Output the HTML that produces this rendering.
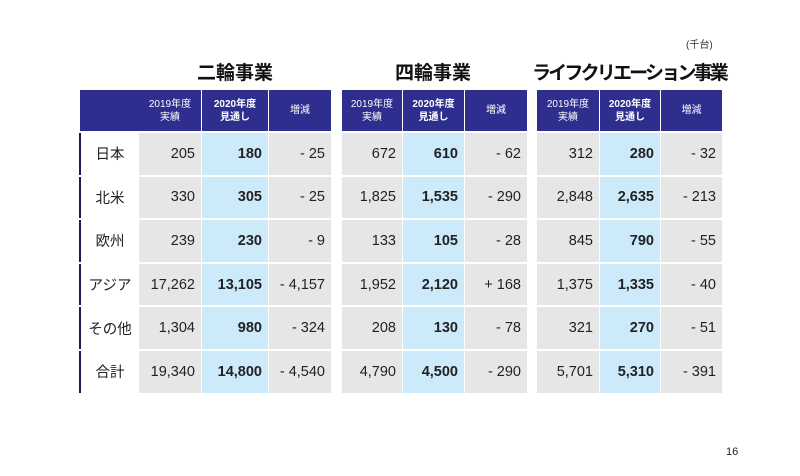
<!DOCTYPE html>
<html><head><meta charset="utf-8">
<style>
body{margin:0;width:800px;height:476px;background:#fff;position:relative;overflow:hidden;font-family:"Liberation Sans","Noto Sans CJK JP",sans-serif;}
.a{position:absolute;box-sizing:border-box;}
.h{background:#2e2e8f;color:#fff;font-size:10px;line-height:13px;text-align:center;display:flex;align-items:center;justify-content:center;}
.c{font-size:14.5px;color:#222;display:flex;align-items:center;justify-content:flex-end;padding-right:6px;}
.g{background:#e6e6e6}.b{background:#cdeafb;font-weight:bold}
.t{font-size:19px;font-weight:bold;color:#111;text-align:center;white-space:nowrap;}
.l{font-size:14.5px;color:#222;display:flex;align-items:center;justify-content:center;border-left:2px solid #1b1b55;}
</style></head><body>
<div class="a" style="left:686px;top:36px;font-size:10px;color:#333">(千台)</div>
<div class="a" style="left:726px;top:446px;font-size:11px;color:#222">16</div>
<script>
const regions=["日本","北米","欧州","アジア","その他","合計"];
const titles=["二輪事業","四輪事業","ライフクリエーション事業"];
const v2019=[["205","330","239","17,262","1,304","19,340"],["672","1,825","133","1,952","208","4,790"],["312","2,848","845","1,375","321","5,701"]];
const v2020=[["180","305","230","13,105","980","14,800"],["610","1,535","105","2,120","130","4,500"],["280","2,635","790","1,335","270","5,310"]];
const vdiff=[["- 25","- 25","- 9","- 4,157","- 324","- 4,540"],["- 62","- 290","- 28","+ 168","- 78","- 290"],["- 32","- 213","- 55","- 40","- 51","- 391"]];
const secs=[[139,201,202,268,269,331],[342,402,403,464,465,527],[537,599,600,660,661,722]];
function box(cls,x,y,w,h,html,name){const d=document.createElement('div');d.className='a '+cls;d.style.left=x+'px';d.style.top=y+'px';d.style.width=w+'px';d.style.height=h+'px';d.innerHTML=html;


document.body.appendChild(d);return d;}
const rowTop=133,rowH=43.6;
box('h',80,90,59,41,'','header-blank');
regions.forEach((r,i)=>{box('l',79,rowTop+i*rowH,60,rowH-2,r,'region-label');});
const titleX=[235,433,629];
secs.forEach((s,k)=>{
 const t=box('t',titleX[k]-120,58,240,28,titles[k],'section-title');
 if(k===2){t.style.letterSpacing='-2.8px';}
 box('h',s[0],90,s[1]-s[0],41,'2019年度<br>実績','header-2019');
 box('h',s[2],90,s[3]-s[2],41,'<b>2020年度<br>見通し</b>','header-2020');
 box('h',s[4],90,s[5]-s[4],41,'増減','header-diff');
 regions.forEach((r,i)=>{const y=rowTop+i*rowH,h=rowH-2;
  box('c g',s[0],y,s[1]-s[0],h,v2019[k][i],'cell-2019');
  box('c b',s[2],y,s[3]-s[2],h,v2020[k][i],'cell-2020');
  box('c g',s[4],y,s[5]-s[4],h,vdiff[k][i],'cell-diff');
 });
});
</script>
</body></html>
